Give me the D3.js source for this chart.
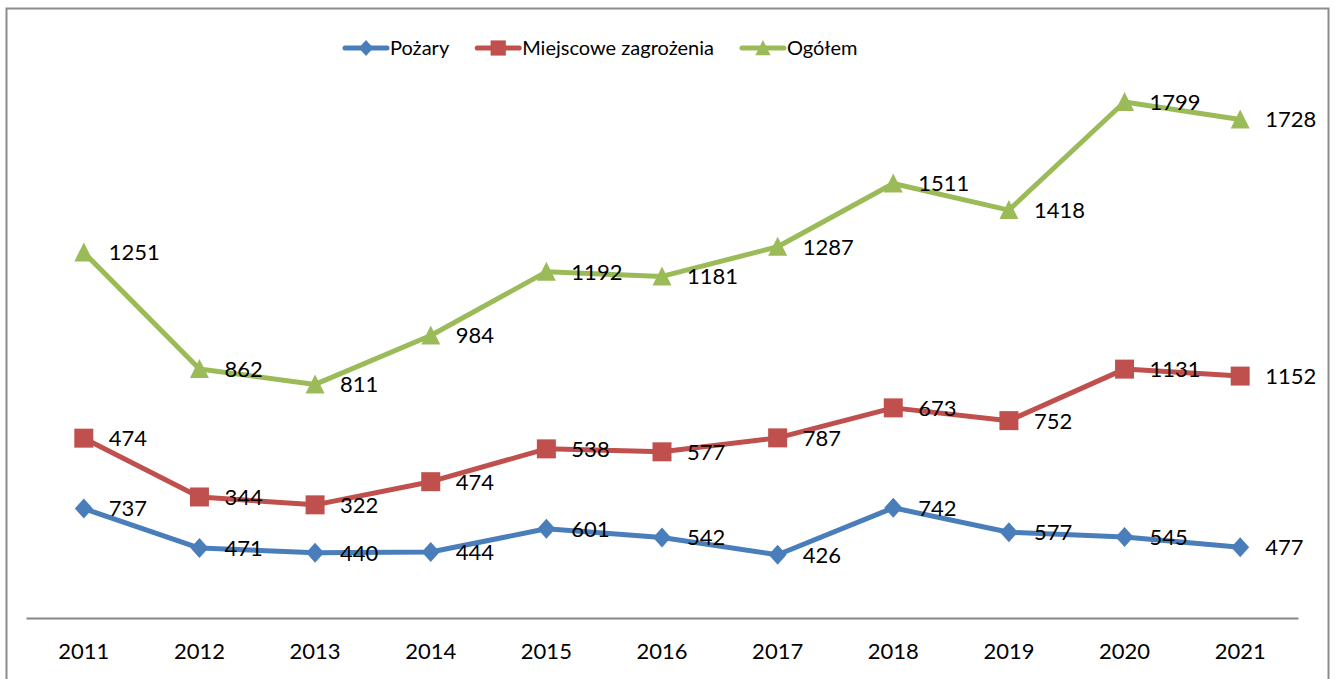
<!DOCTYPE html>
<html>
<head>
<meta charset="utf-8">
<script src="https://cdn.jsdelivr.net/npm/d3@7.9.0/dist/d3.min.js"></script>
<style>
  body { margin: 0; background: #fff; }
  text { font-family: Lato, "Open Sans", sans-serif; fill: #000; }
</style>
</head>
<body>
<svg id="chart" width="1335" height="679"></svg>
<script>
// Data (stacked line chart, labels show own values)
const years = ['2011', '2012', '2013', '2014', '2015', '2016', '2017', '2018', '2019', '2020', '2021'];
const pozary = [737, 471, 440, 444, 601, 542, 426, 742, 577, 545, 477];
const miejscowe = [474, 344, 322, 474, 538, 577, 787, 673, 752, 1131, 1152];
const ogolem = [1251, 862, 811, 984, 1192, 1181, 1287, 1511, 1418, 1799, 1728];

const seriesNames = ['Pożary', 'Miejscowe zagrożenia', 'Ogółem'];
const seriesColors = ['#4A7EBB', '#C0504D', '#9BBB59'];
const seriesShapes = ['diamond', 'square', 'triangle'];

const svg = d3.select('#chart');

// Chart area border
svg.append('rect')
    .attr('x', 6.5).attr('y', 8.5)
    .attr('width', 1322).attr('height', 690)
    .attr('fill', 'none')
    .attr('stroke', '#8c8c8c')
    .attr('stroke-width', 2);

const x = d3.scaleBand().domain(years).range([26, 1298]).paddingInner(0).paddingOuter(0);
const y = d3.scaleLinear().domain([0, 4000]).range([618, 24]);
const cx = d => x(d) + x.bandwidth() / 2;

// Stack the series
const rows = years.map((yr, i) => ({ year: yr, a: pozary[i], b: miejscowe[i], c: ogolem[i] }));
const stacked = d3.stack().keys(['a', 'b', 'c'])(rows);

// Category axis
const axis = svg.append('g')
    .attr('transform', 'translate(0,618)')
    .call(d3.axisBottom(x).tickSize(0).tickPadding(25));
axis.select('.domain').attr('stroke', '#868686').attr('stroke-width', 2);
axis.selectAll('text').style('font-size', '22px').attr('fill', '#000')
    .attr('font-family', 'Lato, sans-serif');

function markerPath(shape, s) {
    if (shape === 'diamond') return `M0,${-10 * s}L${9 * s},0L0,${10 * s}L${-9 * s},0Z`;
    if (shape === 'square') return `M${-9.5 * s},${-9.5 * s}h${19 * s}v${19 * s}h${-19 * s}Z`;
    return `M0,${-10 * s}L${9.5 * s},${9 * s}L${-9.5 * s},${9 * s}Z`;
}

const line = d3.line()
    .x(d => cx(d.data.year))
    .y(d => y(d[1]));

const own = [pozary, miejscowe, ogolem];

stacked.forEach((layer, k) => {
    const g = svg.append('g');
    g.append('path')
        .datum(layer)
        .attr('d', line)
        .attr('fill', 'none')
        .attr('stroke', seriesColors[k])
        .attr('stroke-width', 5)
        .attr('stroke-linejoin', 'round');

    g.selectAll('path.m')
        .data(layer)
        .join('path')
        .attr('class', 'm')
        .attr('d', markerPath(seriesShapes[k], 1))
        .attr('transform', d => `translate(${cx(d.data.year)},${y(d[1])})`)
        .attr('fill', seriesColors[k]);

    g.selectAll('text')
        .data(layer)
        .join('text')
        .attr('x', d => cx(d.data.year) + 25)
        .attr('y', d => y(d[1]))
        .attr('dy', '0.36em')
        .style('font-size', '22px')
        .text((d, i) => own[k][i]);
});

// Legend
let lx = 345;
seriesNames.forEach((name, k) => {
    const g = svg.append('g').attr('transform', `translate(${lx},48)`);
    g.append('line')
        .attr('x1', 0).attr('x2', 42)
        .attr('stroke', seriesColors[k])
        .attr('stroke-width', 5)
        .attr('stroke-linecap', 'round');
    g.append('path')
        .attr('d', markerPath(seriesShapes[k], 0.8))
        .attr('transform', 'translate(21,0)')
        .attr('fill', seriesColors[k]);
    const t = g.append('text')
        .attr('x', 45).attr('dy', '0.36em')
        .style('font-size', '20px')
        .text(name);
    lx += 45 + t.node().getComputedTextLength() + 28;
});
</script>
</body>
</html>
